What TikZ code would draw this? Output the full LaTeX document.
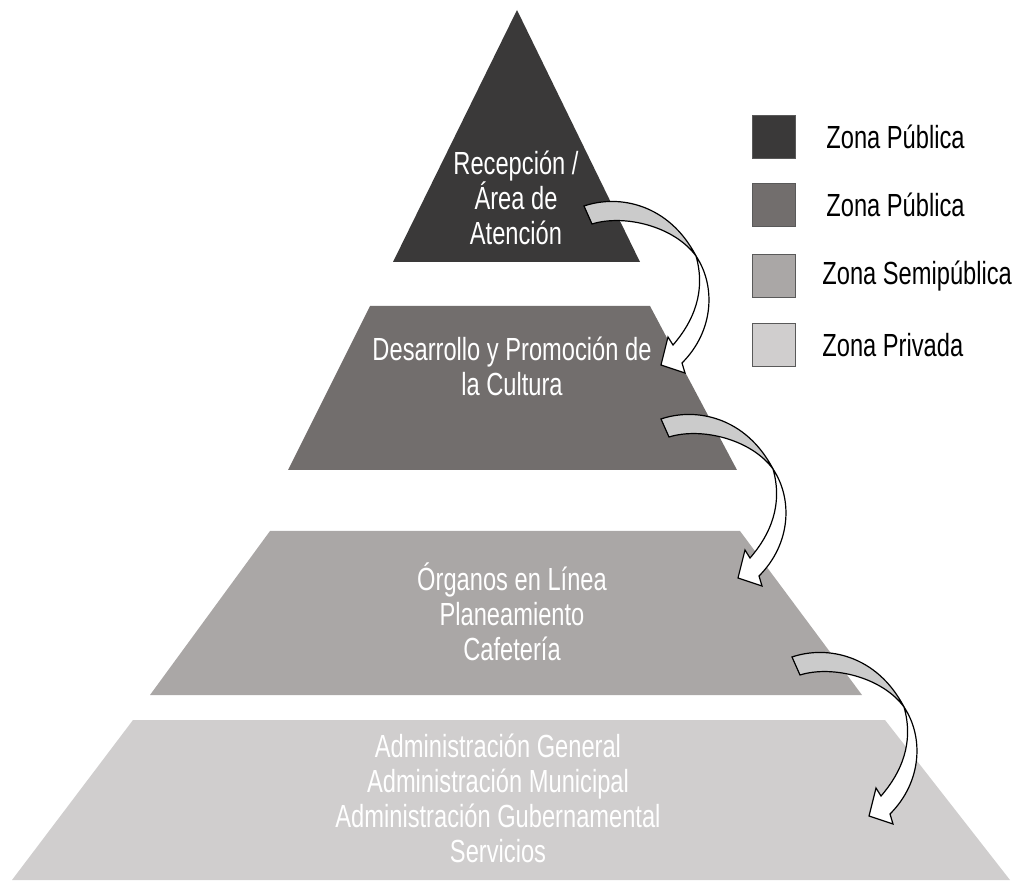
\documentclass[tikz,border=0pt]{standalone}
\usepackage{fontspec}
\setmainfont{Liberation Sans}[FakeStretch=0.74]
\definecolor{zonaA}{HTML}{3A3939}
\definecolor{zonaB}{HTML}{726E6D}
\definecolor{zonaC}{HTML}{AAA7A6}
\definecolor{zonaD}{HTML}{D0CECE}
\definecolor{flechagris}{HTML}{CBCBCB}
\def\letra{\fontsize{16}{17.5}\selectfont}

\tikzset{
  rotulo/.style={text=white, align=center, font=\letra, inner sep=0pt},
  cuadro/.style={draw=black!65, line width=0.6pt, minimum size=21.5pt, inner sep=0pt},
  leyenda/.style={anchor=west, font=\letra, inner sep=0pt},
  flecha/.pic={
    \filldraw[fill=flechagris, draw=black, line width=0.6pt] (0,0) .. controls (35,-12) and (85,-2) .. (112,50)
      .. controls (90,20) and (40,8) .. (8,18) -- cycle;
    \filldraw[fill=white, draw=black, line width=0.6pt] (112,50) .. controls (132,80) and (130,125) .. (98,157)
      -- (101,167) -- (77,159) -- (84,131) -- (89,139) .. controls (110,115) and (122,85) .. (112,50) -- cycle;
  }
}

\begin{document}
\begin{tikzpicture}[x=0.5pt, y=-0.5pt]
\useasboundingbox (0,0) rectangle (1024,882);

% piramide
\coordinate (A1) at (517,10);
\coordinate (A2) at (640,262);
\coordinate (A3) at (393,262);
\coordinate (B1) at (370,306);
\coordinate (B2) at (650,306);
\coordinate (B3) at (737,470);
\coordinate (B4) at (288,470);
\coordinate (C1) at (270,531);
\coordinate (C2) at (740,531);
\coordinate (C3) at (862,695);
\coordinate (C4) at (150,695);
\coordinate (D1) at (133,720);
\coordinate (D2) at (885,720);
\coordinate (D3) at (1010,880);
\coordinate (D4) at (12,880);

\fill[zonaA] (A1) -- (A2) -- (A3) -- cycle;
\fill[zonaB] (B1) -- (B2) -- (B3) -- (B4) -- cycle;
\fill[zonaC] (C1) -- (C2) -- (C3) -- (C4) -- cycle;
\fill[zonaD] (D1) -- (D2) -- (D3) -- (D4) -- cycle;

\node[rotulo] (recepcion) at (516,198) {Recepción /\\Área de\\Atención};
\node[rotulo] (cultura) at (512,366) {Desarrollo y Promoción de\\la Cultura};
\node[rotulo] (organos) at (512,612) {Órganos en Línea\\Planeamiento\\Cafetería};
\node[rotulo] (admin) at (498,798) {Administración General\\Administración Municipal\\Administración Gubernamental\\Servicios};

% flechas
\coordinate (f1) at (584,206);
\coordinate (f2) at (661,419);
\coordinate (f3) at (792,657);
\foreach \f in {f1,f2,f3}{
  \pic at (\f) {flecha};
}

% leyenda
\foreach \i/\c/\y/\dx/\t in {1/zonaA/137/826/Zona Pública, 2/zonaB/205/826/Zona Pública, 3/zonaC/276/822/Zona Semipública, 4/zonaD/345/822/Zona Privada}{
  \node[cuadro, fill=\c] (cuadro\i) at (774,\y) {};
  \node[leyenda] (texto\i) at (\dx,\y) {\t};
}
\end{tikzpicture}
\end{document}
